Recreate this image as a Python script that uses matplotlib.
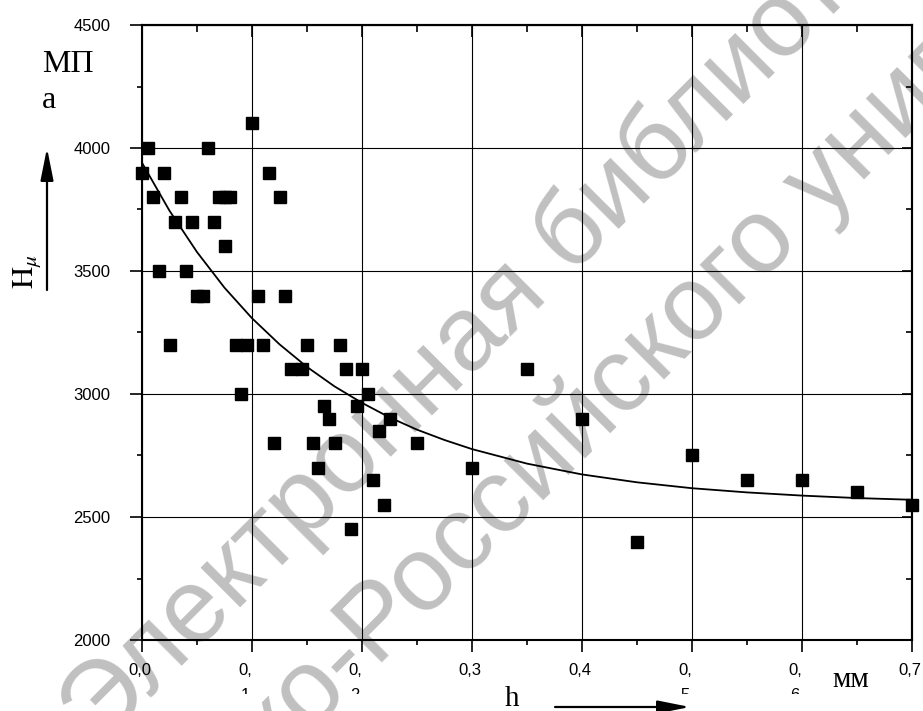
import matplotlib
matplotlib.use("Agg")
import matplotlib.pyplot as plt
from matplotlib.ticker import MultipleLocator, FixedLocator, FixedFormatter
from matplotlib.transforms import ScaledTranslation, Bbox, TransformedBbox

# ---- data ----
h_mm = [0.000, 0.005, 0.010, 0.015, 0.020, 0.025, 0.030, 0.035, 0.040, 0.045,
        0.050, 0.055, 0.060, 0.065, 0.070, 0.075, 0.080, 0.075, 0.085, 0.095,
        0.090, 0.100, 0.105, 0.110, 0.115, 0.120, 0.125, 0.130, 0.135, 0.145,
        0.150, 0.155, 0.160, 0.165, 0.170, 0.175, 0.180, 0.185, 0.190, 0.195,
        0.200, 0.205, 0.210, 0.215, 0.220, 0.225, 0.250, 0.300, 0.350, 0.400,
        0.450, 0.500, 0.550, 0.600, 0.650, 0.700]
hardness = [3900, 4000, 3800, 3500, 3900, 3200, 3700, 3800, 3500, 3700,
            3400, 3400, 4000, 3700, 3800, 3800, 3800, 3600, 3200, 3200,
            3000, 4100, 3400, 3200, 3900, 2800, 3800, 3400, 3100, 3100,
            3200, 2800, 2700, 2950, 2900, 2800, 3200, 3100, 2450, 2950,
            3100, 3000, 2650, 2850, 2550, 2900, 2800, 2700, 3100, 2900,
            2400, 2750, 2650, 2650, 2600, 2550]

curve_h = [0.0, 0.025, 0.05, 0.075, 0.1, 0.125, 0.15, 0.175, 0.2, 0.225, 0.25,
           0.275, 0.3, 0.35, 0.4, 0.45, 0.5, 0.55, 0.6, 0.65, 0.7]
curve_hv = [3940, 3745, 3577, 3432, 3308, 3202, 3110, 3031, 2964, 2905, 2855,
            2813, 2776, 2717, 2673, 2641, 2617, 2600, 2587, 2577, 2570]

x_ticks = [0.0, 0.1, 0.2, 0.3, 0.4, 0.5, 0.6, 0.7]
x_labels = ["0,0", "0,\n1", "0,\n2", "0,3", "0,4", "0,\n5", "0,\n6", "0,7"]
y_ticks = [2000, 2500, 3000, 3500, 4000, 4500]
y_labels = ["2000", "2500", "3000", "3500", "4000", "4500"]

W, H = 923, 711
fig = plt.figure(figsize=(W / 100, H / 100), dpi=100)
fig.patch.set_facecolor("white")

ax = fig.add_axes([142 / W, 71 / H, 770 / W, 615 / H])
ax.set_facecolor("none")
ax.set_xlim(0, 0.7)
ax.set_ylim(2000, 4500)

ax.xaxis.set_major_locator(FixedLocator(x_ticks))
ax.xaxis.set_major_formatter(FixedFormatter(x_labels))
ax.xaxis.set_minor_locator(MultipleLocator(0.05))
ax.yaxis.set_major_locator(FixedLocator(y_ticks))
ax.yaxis.set_major_formatter(FixedFormatter(y_labels))
ax.yaxis.set_minor_locator(MultipleLocator(250))

ax.grid(True, which="major", color="black", linewidth=0.8)
ax.set_axisbelow(True)
for s in ax.spines.values():
    s.set_linewidth(1.5)

ax.tick_params(axis="both", which="major", direction="out", length=8.6,
               width=1.2, labelsize=12)
ax.tick_params(axis="both", which="minor", direction="out", length=3.6, width=1.2)
ax.tick_params(axis="x", which="major", pad=8)
ax.tick_params(axis="y", which="major", pad=14)
for lab in ax.get_xticklabels() + ax.get_yticklabels():
    lab.set_family("Liberation Sans")
for lab in ax.get_xticklabels():
    lab.set_linespacing(1.85)

# top/right inward ticks
secx = ax.secondary_xaxis("top")
secx.xaxis.set_major_locator(FixedLocator(x_ticks))
secx.xaxis.set_minor_locator(MultipleLocator(0.05))
secx.tick_params(which="major", direction="in", length=8.6, width=1.2, labeltop=False)
secx.tick_params(which="minor", direction="in", length=5, width=1.2)
secx.spines["top"].set_linewidth(1.5)
secy = ax.secondary_yaxis("right")
secy.yaxis.set_major_locator(FixedLocator(y_ticks))
secy.yaxis.set_minor_locator(MultipleLocator(250))
secy.tick_params(which="major", direction="in", length=7.2, width=1.2, labelright=False)
secy.tick_params(which="minor", direction="in", length=4.3, width=1.2)
secy.spines["right"].set_linewidth(1.5)

# scatter and curve
ax.plot(h_mm, hardness, linestyle="none", marker="s", markersize=8.6,
        color="black", clip_on=False, zorder=4)
ax.plot(curve_h, curve_hv, color="black", linewidth=1.3, zorder=3)

# tweak two-line tick labels: shift left and clip bottom
fig.canvas.draw()
clip = TransformedBbox(Bbox.from_extents(0, 17 / H, 1, 1), fig.transFigure)
for t in ax.xaxis.get_major_ticks():
    lab = t.label1
    if "\n" in lab.get_text():
        lab.set_transform(lab.get_transform() +
                          ScaledTranslation(-7 / 100, 0, fig.dpi_scale_trans))
        lab.set_clip_box(clip)
        lab.set_clip_on(True)
    else:
        lab.set_transform(lab.get_transform() +
                          ScaledTranslation(-2.5 / 100, 0, fig.dpi_scale_trans))

def fx(px):
    return px / W

def fy(py):
    return (H - py) / H

serif = "Liberation Serif"
fig.text(fx(42), fy(72), "МП", family=serif, size=23, ha="left", va="baseline")
fig.text(fx(42), fy(108), "а", family=serif, size=23, ha="left", va="baseline")
plt.rcParams["mathtext.fontset"] = "stix"
fig.text(fx(33), fy(289), r"$\mathrm{H}_{\mu}$", size=22, rotation=90,
         rotation_mode="anchor", ha="left", va="baseline")
fig.text(fx(505), fy(706), "h", family=serif, size=21, ha="left", va="baseline")
fig.text(fx(832), fy(687), "мм", family=serif, size=21, ha="left", va="baseline")

arrow_kw = dict(arrowstyle="-|>,head_length=1.4,head_width=0.28",
                color="black", lw=1.6, mutation_scale=14, shrinkA=0, shrinkB=0)
ax.annotate("", xy=(fx(47), fy(148)), xytext=(fx(47), fy(290)),
            xycoords="figure fraction", textcoords="figure fraction",
            arrowprops=arrow_kw, annotation_clip=False)
ax.annotate("", xy=(fx(690), fy(707)), xytext=(fx(555), fy(707)),
            xycoords="figure fraction", textcoords="figure fraction",
            arrowprops=arrow_kw, annotation_clip=False)

# watermark
wm = dict(family="Liberation Sans", size=76, color="#c0c0c0", rotation=45,
          rotation_mode="anchor", ha="left", va="baseline", zorder=-5)
fig.text(fx(99), fy(748), "Электронная библиотека", **wm)
fig.text(fx(-50), fy(1093), "Белорусско-Российского университета", **wm)

fig.savefig("out.png", dpi=100)
